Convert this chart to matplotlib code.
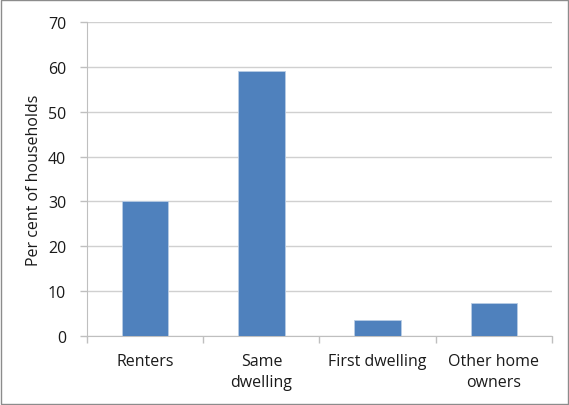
import matplotlib.pyplot as plt
import numpy as np

# household shares by category
categories = ["Renters", "Same\ndwelling", "First dwelling", "Other home\nowners"]
values = [30, 59, 3.6, 7.4]

plt.rcParams['font.family'] = ['Open Sans', 'DejaVu Sans']

fig = plt.figure(figsize=(5.69, 4.06), dpi=100)
ax = fig.add_axes([0.153, 0.170, 0.817, 0.773])

x = np.arange(len(categories))
ax.bar(x, values, width=0.4, color='#4F81BD', edgecolor='#B9CDE5', linewidth=0.6, zorder=3)

ax.set_xlim(-0.5, len(categories) - 0.5)
ax.set_ylim(0, 70)
ax.set_yticks(range(0, 71, 10))
ax.yaxis.grid(True, color='#D0D0D0', linewidth=1, zorder=0)

# category labels centred, ticks on the boundaries
ax.set_xticks(x)
ax.set_xticklabels(categories, fontsize=11.5, color='#1A1A1A', linespacing=1.45)
ax.tick_params(axis='x', length=0, pad=12)
ax.set_xticks(np.arange(-0.5, len(categories)), minor=True)
ax.tick_params(axis='x', which='minor', length=5, color='#BFBFBF', width=1)
ax.tick_params(axis='y', length=5, color='#BFBFBF', width=1, labelsize=11.5, labelcolor='#1A1A1A', pad=10)

for side in ['top', 'right']:
    ax.spines[side].set_visible(False)
ax.spines['left'].set_color('#BFBFBF')
ax.spines['bottom'].set_color('#BFBFBF')

ax.set_ylabel("Per cent of households", fontsize=11.5, color='#1A1A1A', labelpad=4)

# thin frame round the whole chart
fig.patches.append(plt.Rectangle((0.002, 0.002), 0.996, 0.995, transform=fig.transFigure,
                                 fill=False, edgecolor='#8C8C8C', linewidth=1))

fig.savefig("out.png", dpi=100)
